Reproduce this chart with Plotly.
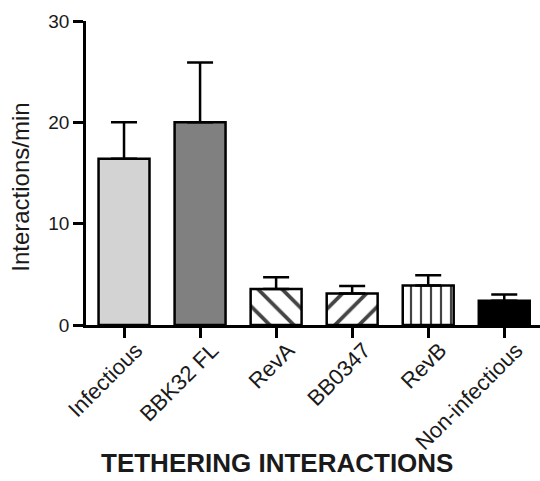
import plotly.graph_objects as go

# Tethering interaction rates per strain (mean and upper SEM)
strains = ["Infectious", "BBK32 FL", "RevA", "BB0347", "RevB", "Non-infectious"]
rates = [16.4, 20.0, 3.55, 3.1, 3.9, 2.4]
rate_err = [3.6, 5.9, 1.15, 0.75, 1.0, 0.62]

fill_colors = ["#d3d3d3", "#808080", "white", "white", "white", "black"]
pattern_shapes = ["", "", "\\", "/", "|", ""]
pattern_sizes = [8, 8, 17, 17, 10, 8]
pattern_solidity = [0.2, 0.2, 0.22, 0.22, 0.22, 0.2]

FONT = "Arial, Liberation Sans, sans-serif"
INK = "#1a1a1a"

fig = go.Figure(
    go.Bar(
        x=strains,
        y=rates,
        marker=dict(
            color=fill_colors,
            line=dict(color="black", width=2.5),
            pattern=dict(
                shape=pattern_shapes,
                size=pattern_sizes,
                solidity=pattern_solidity,
                fgcolor="black",
                fgopacity=1,
                bgcolor="white",
                fillmode="overlay",
            ),
        ),
        error_y=dict(
            type="data",
            symmetric=False,
            array=rate_err,
            arrayminus=[0] * len(rate_err),
            color="black",
            thickness=2.5,
            width=13,
        ),
        showlegend=False,
    )
)

fig.update_layout(
    width=540,
    height=481,
    margin=dict(l=86, r=0, t=21, b=156),
    plot_bgcolor="white",
    paper_bgcolor="white",
    bargap=0.33,
    font=dict(family=FONT, color=INK),
    annotations=[
        dict(
            text="<b>TETHERING INTERACTIONS</b>",
            xref="paper",
            yref="paper",
            x=0.42,
            y=-0.455,
            xanchor="center",
            yanchor="middle",
            showarrow=False,
            font=dict(family=FONT, size=26, color=INK),
        ),
        dict(
            text="Interactions/min",
            textangle=-90,
            xref="paper",
            yref="paper",
            x=-0.145,
            y=0.452,
            xanchor="center",
            yanchor="middle",
            showarrow=False,
            font=dict(family=FONT, size=24, color=INK),
        ),
    ],
)

fig.update_xaxes(
    range=[-0.5, 5.47],
    showline=True,
    linecolor="black",
    linewidth=2.5,
    ticks="outside",
    ticklen=10,
    tickwidth=2.5,
    tickcolor="black",
    tickangle=-45,
    ticklabelshift=12,
    ticklabelstandoff=-9,
    tickfont=dict(family=FONT, size=22, color=INK),
    showgrid=False,
    zeroline=False,
)

fig.update_yaxes(
    range=[0, 30],
    tickvals=[0, 10, 20, 30],
    showline=True,
    linecolor="black",
    linewidth=2.5,
    ticks="outside",
    ticklen=10,
    tickwidth=2.5,
    tickcolor="black",
    tickfont=dict(family=FONT, size=19, color=INK),
    showgrid=False,
    zeroline=False,
)

fig.write_html("out.html")
